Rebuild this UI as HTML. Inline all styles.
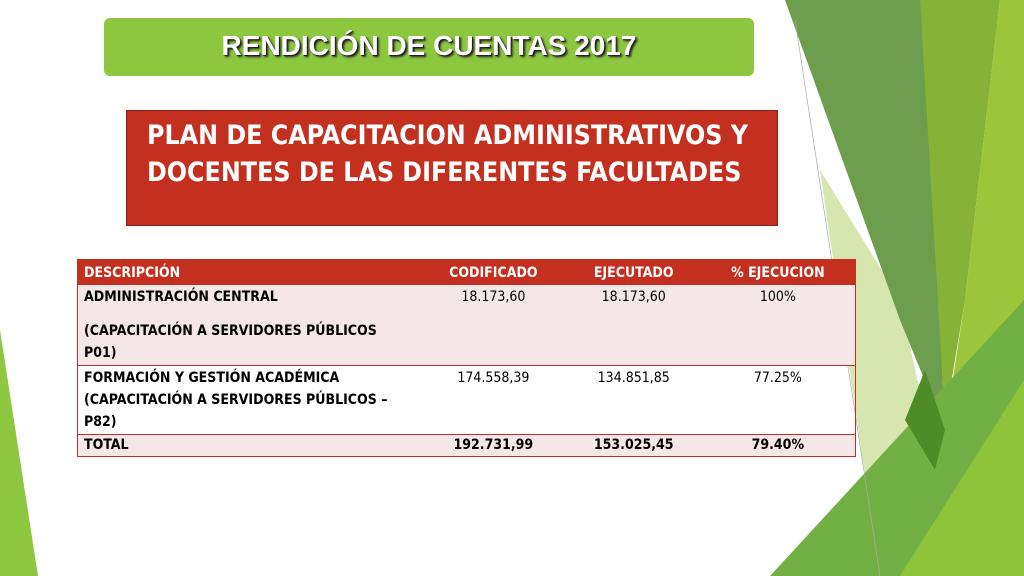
<!DOCTYPE html>
<html><head><meta charset="utf-8"><style>
body{margin:0;width:1024px;height:576px;overflow:hidden;background:#fff;font-family:"DejaVu Sans","Liberation Sans",sans-serif;position:relative}
#bg{position:absolute;left:0;top:0}
.title{position:absolute;left:104px;top:18px;width:650px;height:58px;background:#8dc63f;border-radius:6px;color:#fff;font:900 28px "Liberation Sans",sans-serif;text-align:center;line-height:56px;text-shadow:1px 1px 0 #222,2px 2px 2px #222}
.sub{position:absolute;left:126px;top:110px;width:652px;height:116px;background:#c3301f;border:1px solid #8a2014;color:#fff;font:bold 26.5px "DejaVu Sans Condensed","DejaVu Sans",sans-serif;box-sizing:border-box;padding:6px 20px;line-height:37px;white-space:nowrap}
table{position:absolute;left:77px;top:259px;width:779px;border-collapse:collapse;font-size:14px;font-family:"DejaVu Sans Condensed","DejaVu Sans",sans-serif;border:1px solid #c3301f}
th{background:#c3301f;color:#fff;font-weight:bold;height:25px;padding:0 6px;text-align:center;border:none}
th:first-child{text-align:left}
td{vertical-align:top;padding:1px 6px;text-align:center;line-height:22px;border-bottom:1px solid #c3301f}
td:first-child{text-align:left;font-weight:bold}
tr.p td{background:#f5e7e7}
.tot td{font-weight:bold;padding:0 6px;line-height:21px}
</style></head><body>
<svg id="bg" width="1024" height="576">
<polygon points="0,330 0,576 38,576" fill="#8dc63f"/>
<polygon points="820,170 880,576 960,576 900,300" fill="#d6e6ae"/>
<polygon points="785,0 925,0 945,430 900,320" fill="#6d9e4e"/>
<polygon points="920,0 1000,0 965,300 945,420" fill="#86b237"/>
<polygon points="1000,0 1024,0 1024,576 940,576 945,430 965,300" fill="#9bc63c"/>
<polygon points="770,576 1024,300 1024,576" fill="#72b046"/>
<polygon points="900,576 1024,380 1024,576" fill="#8fc43a"/>
<polygon points="925,370 945,430 935,470 905,420" fill="#4e8c28"/>
<line x1="795" y1="20" x2="880" y2="576" stroke="#aaa" stroke-width="0.7"/>
</svg>
<div class="title">RENDICIÓN DE CUENTAS 2017</div>
<div class="sub">PLAN DE CAPACITACION ADMINISTRATIVOS Y<br>DOCENTES DE LAS DIFERENTES FACULTADES</div>
<table>
<tr><th style="width:330px">DESCRIPCIÓN</th><th>CODIFICADO</th><th>EJECUTADO</th><th>% EJECUCION</th></tr>
<tr class="p"><td>ADMINISTRACIÓN CENTRAL<div style="height:12px"></div>(CAPACITACIÓN A SERVIDORES PÚBLICOS<br>P01)</td><td>18.173,60</td><td>18.173,60</td><td>100%</td></tr>
<tr><td>FORMACIÓN Y GESTIÓN ACADÉMICA<br>(CAPACITACIÓN A SERVIDORES PÚBLICOS –<br>P82)</td><td>174.558,39</td><td>134.851,85</td><td>77.25%</td></tr>
<tr class="p tot"><td>TOTAL</td><td>192.731,99</td><td>153.025,45</td><td>79.40%</td></tr>
</table>
</body></html>
